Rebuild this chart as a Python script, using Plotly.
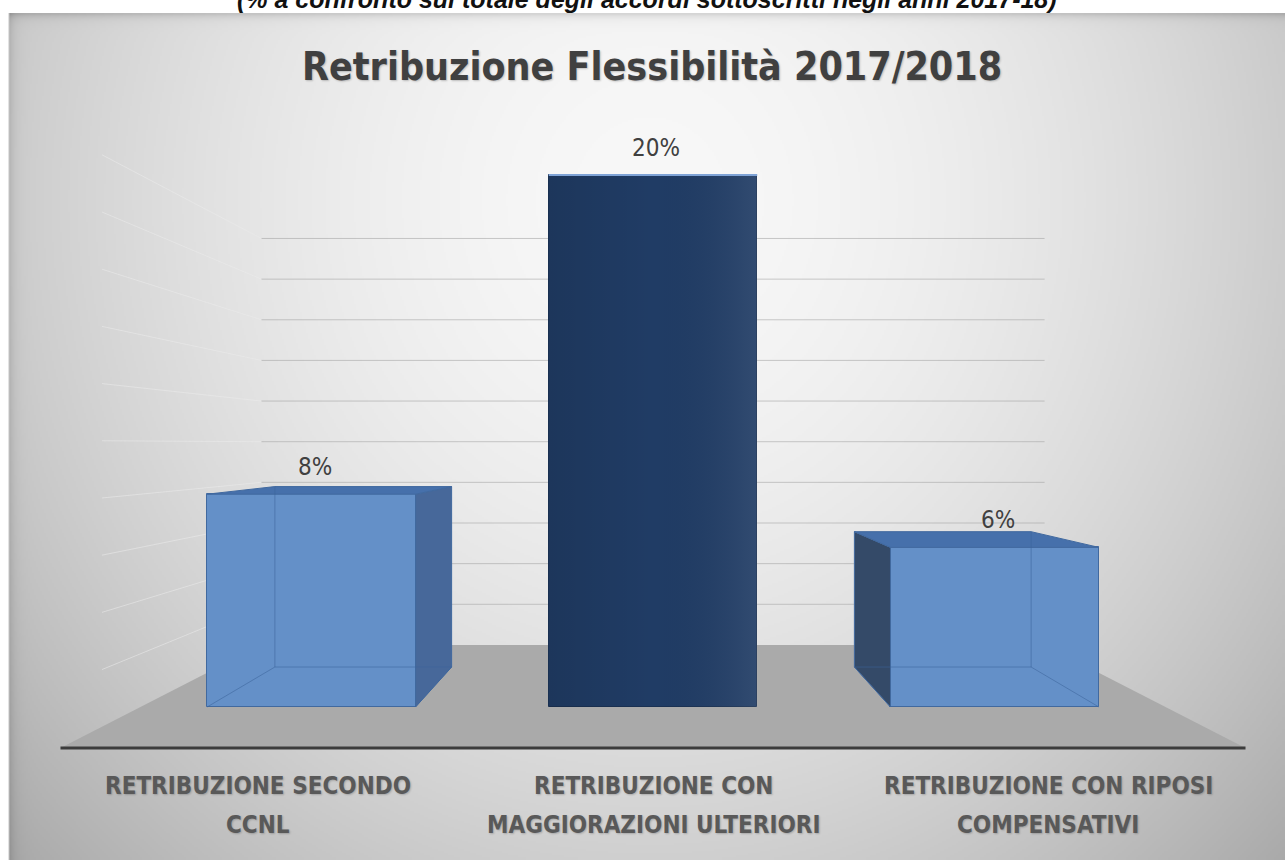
import base64
import struct
import zlib

import numpy as np
import plotly.graph_objects as go

# ---------------------------------------------------------------- data
label_lines = [
    ["RETRIBUZIONE SECONDO", "CCNL"],
    ["RETRIBUZIONE CON", "MAGGIORAZIONI ULTERIORI"],
    ["RETRIBUZIONE CON RIPOSI", "COMPENSATIVI"],
]
values = [8, 20, 6]                      # percent
value_ticks = [0, 2, 4, 6, 8, 10, 12, 14, 16, 18, 20]
title_text = "Retribuzione Flessibilità 2017/2018"
subtitle_text = "(% a confronto sul totale degli accordi sottoscritti negli anni 2017-18)"

front_colors = ["#6490c8", "#203c65", "#6490c8"]
edge_colors = ["#41699f", "#1a3153", "#41699f"]

# ---------------------------------------------------------------- page / projection
W, H = 1285, 860
CAT_PX = 341.7          # px per category on the bar front plane
VAL_PX = 26.6           # px per percent on the bar front plane
CX_PX = 653.0           # px of the middle category (also vanishing x)
ZERO_PX = 707.0         # px of value 0 on the bar front plane
EYE_PX = 444.0          # horizon line

x_range = [1 + (0 - CX_PX) / CAT_PX, 1 + (W - CX_PX) / CAT_PX]
y_range = [(ZERO_PX - H) / VAL_PX, ZERO_PX / VAL_PX]
EYE = (ZERO_PX - EYE_PX) / VAL_PX

R_FLOOR_FRONT = 1.156
R_BAR_FRONT = 1.0
R_BAR_BACK = 0.848
R_WALL = 0.764
HALF = 0.305
CAT_LO, CAT_HI = -0.5, len(values) - 0.5


def proj(c, v, r):
    """Perspective position of (category, value) at relative depth scale r."""
    return 1 + r * (c - 1), EYE + r * (v - EYE)


def poly(points):
    xs = [p[0] for p in points] + [points[0][0]]
    ys = [p[1] for p in points] + [points[0][1]]
    return xs, ys


def path(points):
    return "M " + " L ".join(f"{x:.5f},{y:.5f}" for x, y in points) + " Z"


# ---------------------------------------------------------------- background gradient
def png_uri(rgb):
    h, w, _ = rgb.shape
    raw = b"".join(b"\x00" + rgb[i].tobytes() for i in range(h))

    def chunk(tag, data):
        c = struct.pack(">I", len(data)) + tag + data
        return c + struct.pack(">I", zlib.crc32(tag + data) & 0xFFFFFFFF)

    png = b"\x89PNG\r\n\x1a\n"
    png += chunk(b"IHDR", struct.pack(">IIBBBBB", w, h, 8, 2, 0, 0, 0))
    png += chunk(b"IDAT", zlib.compress(raw, 9))
    png += chunk(b"IEND", b"")
    return "data:image/png;base64," + base64.b64encode(png).decode()


BG_X0, BG_Y0 = 9, 13
bw, bh = (W - BG_X0) // 2, (H - BG_Y0) // 2
gx = np.linspace(BG_X0, W, bw)[None, :]
gy = np.linspace(BG_Y0, H, bh)[:, None]
d2 = ((gx - 650) / 650) ** 2 + ((gy - 200) / 700) ** 2
shade = 248 - 45 * d2 ** 0.9
shade -= 30 * np.exp(-(gy - BG_Y0) / 4.0)
shade -= 22 * np.exp(-(gx - BG_X0) / 5.0)
shade = np.clip(shade, 0, 255).astype(np.uint8)
bg_rgb = np.repeat(shade[:, :, None], 3, axis=2)

fig = go.Figure()

# ---------------------------------------------------------------- walls and floor
shapes = []
floor_pts = [proj(CAT_LO, 0, R_WALL), proj(CAT_HI, 0, R_WALL),
             proj(CAT_HI, 0, R_FLOOR_FRONT), proj(CAT_LO, 0, R_FLOOR_FRONT)]
shapes.append(dict(type="path", xref="x", yref="y", layer="below",
                   path=path(floor_pts), fillcolor="#aaaaaa",
                   line=dict(width=0)))
for v in value_ticks[1:]:
    (x0, y0), (x1, y1) = proj(CAT_LO, v, R_WALL), proj(CAT_HI, v, R_WALL)
    shapes.append(dict(type="line", xref="x", yref="y", layer="below",
                       x0=x0, y0=y0, x1=x1, y1=y1,
                       line=dict(color="rgba(160,160,160,0.55)", width=1)))
    (x2, y2) = proj(CAT_LO, v, R_FLOOR_FRONT * 0.93)
    shapes.append(dict(type="line", xref="x", yref="y", layer="below",
                       x0=x0, y0=y0, x1=x2, y1=y2,
                       line=dict(color="rgba(235,235,235,0.55)", width=1)))

# front edge of the floor (category axis line)
(fx0, fy0), (fx1, fy1) = proj(CAT_LO, 0, R_FLOOR_FRONT), proj(CAT_HI, 0, R_FLOOR_FRONT)
shapes.append(dict(type="line", xref="x", yref="y", layer="above",
                   x0=fx0, y0=fy0, x1=fx1, y1=fy1,
                   line=dict(color="#3c3c3c", width=3)))

# left border of the chart area
shapes.append(dict(type="line", xref="paper", yref="paper", layer="above",
                   x0=BG_X0 / W, x1=BG_X0 / W, y0=0, y1=1 - BG_Y0 / H,
                   line=dict(color="#c4c4c4", width=1)))

# ---------------------------------------------------------------- bars
fig.add_trace(go.Bar(
    x=list(range(len(values))), y=values, width=2 * HALF,
    marker=dict(color=front_colors, line=dict(color=edge_colors, width=1)),
    hoverinfo="skip", showlegend=False,
))

for i, v in enumerate(values):
    cl, cr = i - HALF, i + HALF
    faces = []
    if cr < 1:      # right side face faces the viewer
        faces.append(([proj(cr, 0, R_BAR_FRONT), proj(cr, v, R_BAR_FRONT),
                       proj(cr, v, R_BAR_BACK), proj(cr, 0, R_BAR_BACK)], "#47689a"))
    if cl > 1:      # left side face faces the viewer
        faces.append(([proj(cl, 0, R_BAR_FRONT), proj(cl, v, R_BAR_FRONT),
                       proj(cl, v, R_BAR_BACK), proj(cl, 0, R_BAR_BACK)], "#344a68"))
    if v < EYE:     # top face is seen from above
        faces.append(([proj(cl, v, R_BAR_FRONT), proj(cr, v, R_BAR_FRONT),
                       proj(cr, v, R_BAR_BACK), proj(cl, v, R_BAR_BACK)], "#4670ab"))
    for pts, col in faces:
        xs, ys = poly(pts)
        fig.add_trace(go.Scatter(x=xs, y=ys, mode="lines", fill="toself",
                                 fillcolor=col, line=dict(color=edge_colors[i], width=1),
                                 hoverinfo="skip", showlegend=False))
    if v < EYE:
        # hidden back edges showing through the translucent front face
        edges = [
            [proj(cl, 0, R_BAR_FRONT), proj(cl, 0, R_BAR_BACK), proj(cr, 0, R_BAR_BACK),
             proj(cr, 0, R_BAR_FRONT)],
            [proj(cl, 0, R_BAR_BACK), proj(cl, v, R_BAR_BACK)] if cl < 1 else
            [proj(cr, 0, R_BAR_BACK), proj(cr, v, R_BAR_BACK)],
        ]
        for e in edges:
            fig.add_trace(go.Scatter(x=[p[0] for p in e], y=[p[1] for p in e],
                                     mode="lines",
                                     line=dict(color="rgba(60,100,155,0.55)", width=1),
                                     hoverinfo="skip", showlegend=False))
    else:
        # soft horizontal shading across the tall front face
        xs, ys = poly([proj(cl, 0, R_BAR_FRONT), proj(cr, 0, R_BAR_FRONT),
                       proj(cr, v, R_BAR_FRONT), proj(cl, v, R_BAR_FRONT)])
        fig.add_trace(go.Scatter(
            x=xs, y=ys, mode="none", fill="toself",
            fillgradient=dict(type="horizontal",
                              colorscale=[[0, "rgba(0,0,0,0.10)"],
                                          [0.5, "rgba(0,0,0,0)"],
                                          [1, "rgba(255,255,255,0.08)"]]),
            hoverinfo="skip", showlegend=False))
        tx0, ty0 = proj(cl, v, R_BAR_FRONT)
        tx1, ty1 = proj(cr, v, R_BAR_FRONT)
        fig.add_trace(go.Scatter(x=[tx0, tx1], y=[ty0, ty1], mode="lines",
                                 line=dict(color="#7fa3d6", width=2),
                                 hoverinfo="skip", showlegend=False))

# ---------------------------------------------------------------- text
LABEL_FONT = "DejaVu Sans Condensed, Liberation Sans Narrow, DejaVu Sans"
annotations = []
for i, v in enumerate(values):
    annotations.append(dict(
        x=i + 0.01, y=v, xref="x", yref="y", text=f"{v}%", showarrow=False,
        yanchor="bottom", yshift=11,
        font=dict(family=LABEL_FONT, size=24, color="#404040"),
    ))

for i, lines in enumerate(label_lines):
    lx, _ = proj(i, 0, R_FLOOR_FRONT)
    for j, line in enumerate(lines):
        annotations.append(dict(
            x=lx, y=1 - (786 + 39 * j) / H, xref="x", yref="paper", text=line,
            showarrow=False, xanchor="center", yanchor="middle",
            font=dict(family=LABEL_FONT, size=24, color="#595959", weight="bold",
                      shadow="1px 1px 2px rgba(0,0,0,0.2)"),
        ))

annotations.append(dict(
    x=652 / W, y=1 - 66 / H, xref="paper", yref="paper", text=title_text,
    showarrow=False, xanchor="center", yanchor="middle",
    font=dict(family=LABEL_FONT, size=39, color="#404040", weight="bold",
              shadow="1px 1px 2px rgba(0,0,0,0.22)"),
))
annotations.append(dict(
    x=647 / W, y=1 + 1 / H, xref="paper", yref="paper", text=subtitle_text,
    showarrow=False, xanchor="center", yanchor="middle",
    font=dict(family="Liberation Sans, Arial", size=25, color="#111111",
              weight="bold", style="italic"),
))

fig.update_layout(
    width=W, height=H,
    margin=dict(l=0, r=0, t=0, b=0),
    paper_bgcolor="#ffffff", plot_bgcolor="rgba(0,0,0,0)",
    xaxis=dict(range=x_range, visible=False, fixedrange=True),
    yaxis=dict(range=y_range, visible=False, fixedrange=True),
    shapes=shapes, annotations=annotations,
    images=[dict(source=png_uri(bg_rgb), xref="paper", yref="paper",
                 x=BG_X0 / W, y=1 - BG_Y0 / H, sizex=1 - BG_X0 / W,
                 sizey=1 - BG_Y0 / H, xanchor="left", yanchor="top",
                 sizing="stretch", layer="below")],
    bargap=0,
)

fig.write_html("out.html")
